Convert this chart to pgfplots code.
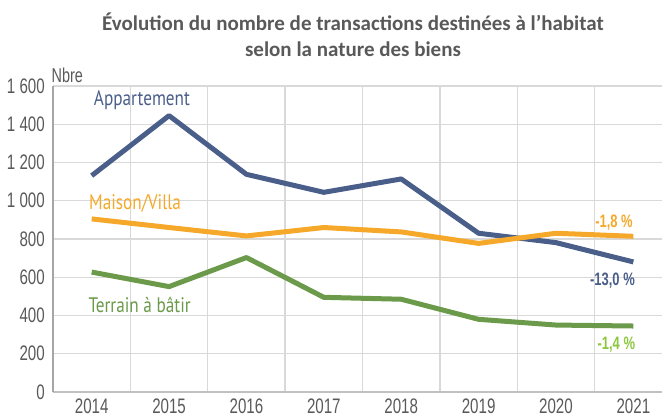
\documentclass[border=0pt]{standalone}
\usepackage{fontspec}
\usepackage{pgfplots}
\pgfplotsset{compat=1.18}
\newfontfamily\condfont[FakeStretch=0.72]{Liberation Sans}
\newfontfamily\labfont[FakeStretch=0.82]{PT Sans}
\newfontfamily\titlefont{Carlito}
\definecolor{txtgray}{HTML}{595959}
\definecolor{gridgray}{HTML}{D9D9D9}
\definecolor{axgray}{HTML}{A6A6A6}
\definecolor{cblue}{HTML}{4A5E8A}
\definecolor{corange}{HTML}{F5A82A}
\definecolor{cgreen}{HTML}{6A9A4A}
\definecolor{cgreenlab}{HTML}{8CC63F}
\begin{document}
\begin{tikzpicture}[x=1pt,y=1pt]
\useasboundingbox (0,0) rectangle (662,417);
\node[align=center, text=txtgray, font=\titlefont\bfseries\fontsize{21}{26}\selectfont] at (353,382)
  {Évolution du nombre de transactions destinées à l’habitat\\selon la nature des biens};
\begin{axis}[
  at={(53pt,25pt)}, anchor=south west,
  scale only axis, width=609pt, height=306pt,
  xmin=-0.5, xmax=7.37, ymin=0, ymax=1600,
  clip=false,
  axis x line=bottom, axis y line=left,
  axis line style={-},
  x axis line style={draw=axgray!70, line width=2.2pt},
  y axis line style={draw=axgray, line width=1.3pt},
  xtick={0,1,2,3,4,5,6,7},
  xticklabels={2014,2015,2016,2017,2018,2019,2020,2021},
  minor xtick={0.5,1.5,2.5,3.5,4.5,5.5,6.5},
  ytick={0,200,400,600,800,1000,1200,1400,1600},
  yticklabels={0,200,400,600,800,1 000,1 200,1 400,1 600},
  major tick length=0pt, minor tick length=0pt,
  ymajorgrids, xminorgrids,
  grid style={draw=gridgray, line width=1.3pt},
  minor grid style={draw=gridgray, line width=1.3pt},
  tick label style={text=txtgray, font=\condfont\fontsize{21}{24}\selectfont},
  yticklabel style={inner sep=0pt, xshift=-8pt},
  xticklabel style={inner sep=0pt, anchor=north, yshift=-7pt},
]
\addplot[cblue, line width=5pt, line join=round] coordinates {
 (0,1131) (1,1445) (2,1138) (3,1044) (4,1114) (5,830) (6,781) (7,680)};
\addplot[corange, line width=5pt, line join=round] coordinates {
 (0,905) (1,860) (2,816) (3,860) (4,837) (5,777) (6,830) (7,814)};
\addplot[cgreen, line width=5pt, line join=round] coordinates {
 (0,627) (1,551) (2,703) (3,495) (4,485) (5,380) (6,350) (7,345)};
\node[text=txtgray, font=\condfont\fontsize{20}{24}\selectfont, anchor=west, inner sep=0pt] at (axis cs:-0.52,1657) {Nbre};
\node[text=cblue, font=\labfont\fontsize{21}{24}\selectfont] at (axis cs:0.65,1527) {Appartement};
\node[text=corange, font=\labfont\fontsize{21}{24}\selectfont] at (axis cs:0.56,988) {Maison/Villa};
\node[text=cgreen, font=\labfont\fontsize{21}{24}\selectfont] at (axis cs:0.62,455) {Terrain à bâtir};
\node[text=corange, font=\condfont\bfseries\fontsize{18}{22}\selectfont] at (axis cs:6.75,884) {-1,8 \%};
\node[text=cblue, font=\condfont\bfseries\fontsize{18}{22}\selectfont] at (axis cs:6.73,581) {-13,0 \%};
\node[text=cgreenlab, font=\condfont\bfseries\fontsize{18}{22}\selectfont] at (axis cs:6.78,246) {-1,4 \%};
\end{axis}
\end{tikzpicture}
\end{document}
